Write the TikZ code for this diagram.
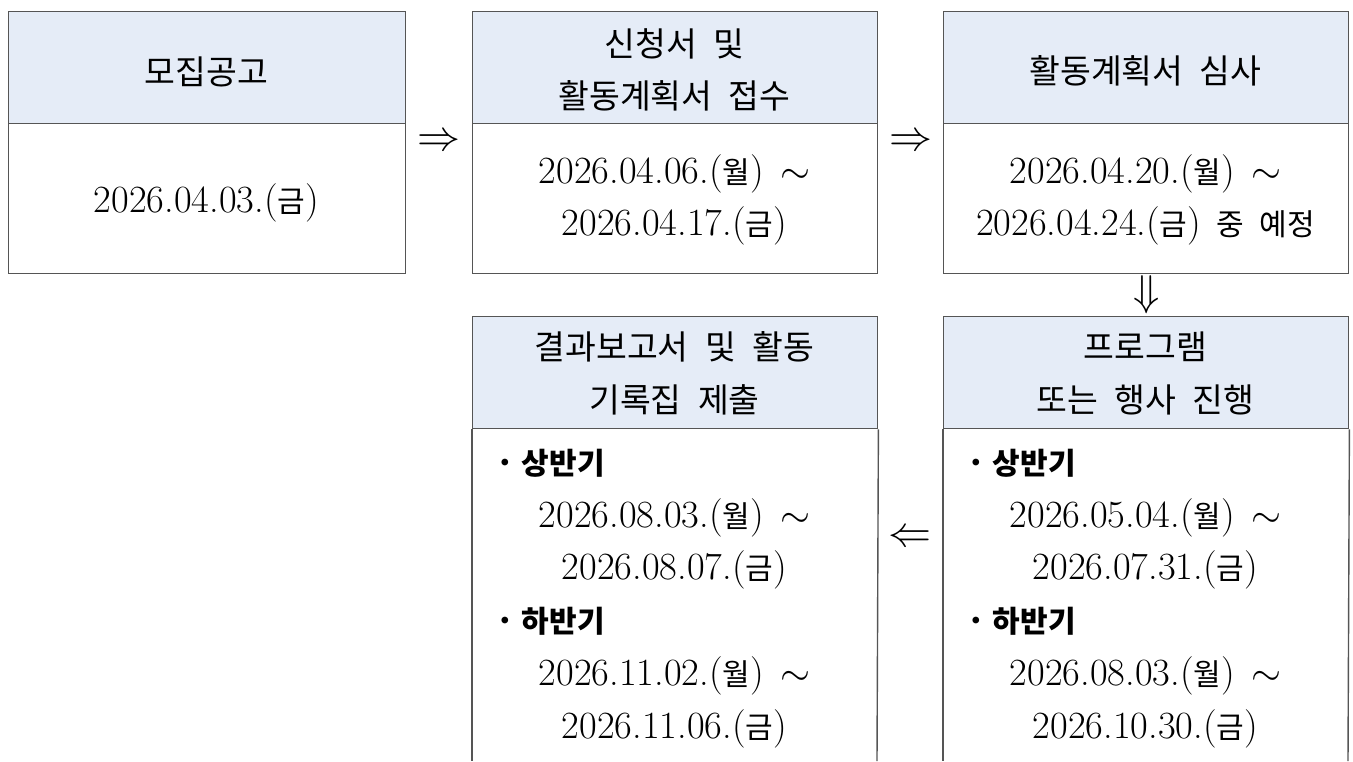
\RequirePackage{fix-cm}
\documentclass[tikz,border=0pt]{standalone}
\usepackage{fontspec}
\newfontfamily\krh[WordSpace=2.2]{Noto Sans CJK KR}
\newfontfamily\krd[Scale=0.78,WordSpace=2.3]{Noto Sans CJK KR}
\usetikzlibrary{calc}
\definecolor{hdrfill}{RGB}{229,236,247}
\definecolor{linec}{RGB}{85,85,85}
\newcommand\dd[2]{#1({\krd #2})}
\newcommand\tld{\hspace{0.42em}$\sim$}
\newcommand\hsz{\krh\fontsize{33.5}{52}\selectfont}
\newcommand\dsz{\fontsize{38.5}{44}\selectfont}
\newcommand\asz{\fontsize{43}{50}\selectfont}
\newcommand\bul[1]{\fontsize{30}{36}\selectfont\raisebox{4pt}{\textbullet}\kern6pt{\krh\bfseries #1}}
\tikzset{
  hdrbox/.style={draw=linec, fill=hdrfill, line width=1.4pt, rectangle, inner sep=0pt, anchor=north west, minimum height=112pt},
  bodybox/.style={draw=linec, line width=1.4pt, rectangle, inner sep=0pt, anchor=north west},
  edge/.style={draw=linec, line width=1.4pt},
  htxt/.style={inner sep=0pt, anchor=base, font=\hsz},
  dtxt/.style={inner sep=0pt, anchor=base, font=\dsz},
  btxt/.style={inner sep=0pt, anchor=base west},
  arrownode/.style={inner sep=0pt, font=\asz}
}
\begin{document}
\begin{tikzpicture}[x=1pt,y=-1pt]
\useasboundingbox (0,0) rectangle (1353,761);
% top row boxes
\node[hdrbox, minimum width=397pt] (h1) at (8,11) {};
\node[bodybox, minimum width=397pt, minimum height=150pt] (b1) at (8,123) {};
\node[hdrbox, minimum width=405pt] (h2) at (472,11) {};
\node[bodybox, minimum width=405pt, minimum height=150pt] (b2) at (472,123) {};
\node[hdrbox, minimum width=405pt] (h3) at (943,11) {};
\node[bodybox, minimum width=405pt, minimum height=150pt] (b3) at (943,123) {};
% bottom row boxes (open at the bottom)
\node[hdrbox, minimum width=405pt] (h4) at (472,316) {};
\node[hdrbox, minimum width=405pt] (h5) at (943,316) {};
\coordinate (e4l) at (472,761);
\coordinate (e4r) at (877,761);
\coordinate (e5l) at (943,761);
\coordinate (e5r) at (1348,761);
\draw[edge] (h4.south west) -- (e4l);
\draw[edge] (h4.south east) -- (e4r);
\draw[edge] (h5.south west) -- (e5l);
\draw[edge] (h5.south east) -- (e5r);
% arrows
\node[arrownode] (a1) at ($($(h1.north east)!0.5!(b1.south east)$)!0.5!($(h2.north west)!0.5!(b2.south west)$)$) {$\Rightarrow$};
\node[arrownode] (a2) at ($($(h2.north east)!0.5!(b2.south east)$)!0.5!($(h3.north west)!0.5!(b3.south west)$)$) {$\Rightarrow$};
\node[arrownode] (a3) at ($(b3.south)!0.5!(h5.north)$) {$\Downarrow$};
\node[arrownode] (a4) at ($($(h4.north east)!0.5!(e4r)$)!0.5!($(h5.north west)!0.5!(e5l)$)$) {$\Leftarrow$};
% headers
\node[htxt] (t1) at (206.5,84) {모집공고};
\node[htxt] (t2a) at (674.5,56) {신청서 및};
\node[htxt] (t2b) at (674.5,108) {활동계획서 접수};
\node[htxt] (t3) at (1145.5,83) {활동계획서 심사};
\node[htxt] (t4a) at (674.5,359) {결과보고서 및 활동};
\node[htxt] (t4b) at (674.5,412) {기록집 제출};
\node[htxt] (t5a) at (1145.5,359) {프로그램};
\node[htxt] (t5b) at (1145.5,412) {또는 행사 진행};
% top dates
\node[dtxt] (d1) at (206.5,212) {\dd{2026.04.03.}{금}};
\node[dtxt] (d2a) at (674.5,183) {\dd{2026.04.06.}{월}\tld};
\node[dtxt] (d2b) at (674.5,235) {\dd{2026.04.17.}{금}};
\node[dtxt] (d3a) at (1145.5,183) {\dd{2026.04.20.}{월}\tld};
\node[dtxt] (d3b) at (1145.5,235) {\dd{2026.04.24.}{금}\hspace{0.4em}{\krd 중 예정}};
% bottom left body
\node[btxt] (s4a) at (494,474) {\bul{상반기}};
\node[dtxt] (d4a) at (674.5,527) {\dd{2026.08.03.}{월}\tld};
\node[dtxt] (d4b) at (674.5,579) {\dd{2026.08.07.}{금}};
\node[btxt] (s4b) at (494,632) {\bul{하반기}};
\node[dtxt] (d4c) at (674.5,685) {\dd{2026.11.02.}{월}\tld};
\node[dtxt] (d4d) at (674.5,738) {\dd{2026.11.06.}{금}};
% bottom right body
\node[btxt] (s5a) at (965,474) {\bul{상반기}};
\node[dtxt] (d5a) at (1145.5,527) {\dd{2026.05.04.}{월}\tld};
\node[dtxt] (d5b) at (1145.5,579) {\dd{2026.07.31.}{금}};
\node[btxt] (s5b) at (965,632) {\bul{하반기}};
\node[dtxt] (d5c) at (1145.5,685) {\dd{2026.08.03.}{월}\tld};
\node[dtxt] (d5d) at (1145.5,738) {\dd{2026.10.30.}{금}};
\end{tikzpicture}
\end{document}
